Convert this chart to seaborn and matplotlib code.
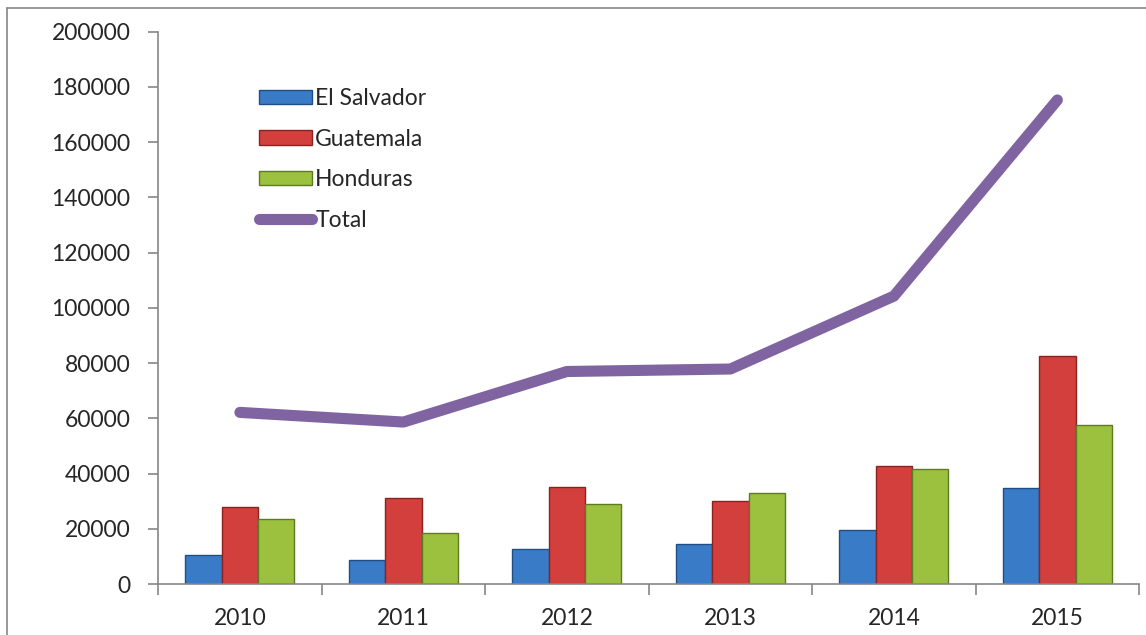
import pandas as pd
import matplotlib.pyplot as plt
import seaborn as sns
from matplotlib.lines import Line2D
from matplotlib.patches import Patch

# Data
years = ["2010", "2011", "2012", "2013", "2014", "2015"]
el_salvador = [10500, 8800, 12700, 14600, 19800, 34900]
guatemala = [28100, 31200, 35100, 30200, 42800, 82600]
honduras = [23600, 18700, 29200, 33100, 41700, 57800]
total = [62200, 58700, 77000, 77900, 104300, 175300]

countries = ["El Salvador", "Guatemala", "Honduras"]
colors = ["#3A7BC8", "#D23F3C", "#9CC13F"]
edges = ["#1F4E85", "#8B2220", "#5E7A22"]

df = pd.DataFrame({
    "year": years * 3,
    "country": [c for c in countries for _ in years],
    "value": el_salvador + guatemala + honduras,
})

sns.set_style("white")
plt.rcParams["font.family"] = ["Lato", "DejaVu Sans"]

fig = plt.figure(figsize=(11.46, 6.35), dpi=100)
ax = fig.add_axes([0.138, 0.080, 0.856, 0.870])

sns.barplot(data=df, x="year", y="value", hue="country", palette=colors,
            width=0.667, ax=ax, legend=False, saturation=1)

# dark edges per series
for bars, ec in zip(ax.containers, edges):
    for b in bars:
        b.set_edgecolor(ec)
        b.set_linewidth(1.0)

sns.pointplot(x=years, y=total, color="#8064A2", markers="", linewidth=8, ax=ax)
for ln in ax.lines:
    ln.set_solid_capstyle("round")
    ln.set_solid_joinstyle("round")

ax.set_ylim(0, 200000)
ax.set_xlim(-0.5, 5.5)
ax.set_yticks(range(0, 200001, 20000))
ax.set_yticklabels([str(v) for v in range(0, 200001, 20000)])
ax.set_xticks([i - 0.5 for i in range(7)])
ax.set_xticklabels([])
ax.set_xticks(range(6), minor=True)
ax.set_xticklabels(years, minor=True)
ax.set_xlabel("")
ax.set_ylabel("")

ax.tick_params(axis="y", which="major", direction="out", length=7, width=1.2,
               color="#868686", labelsize=16.5, pad=13, left=True)
ax.tick_params(axis="x", which="major", direction="out", length=8, width=1.2,
               color="#868686", bottom=True)
ax.tick_params(axis="x", which="minor", length=0, labelsize=16.5, pad=17)

for s in ["top", "right"]:
    ax.spines[s].set_visible(False)
for s in ["left", "bottom"]:
    ax.spines[s].set_color("#868686")
    ax.spines[s].set_linewidth(1.2)

handles = [Patch(facecolor=c, edgecolor=e) for c, e in zip(colors, edges)]
handles.append(Line2D([0], [0], color="#8064A2", lw=8, solid_capstyle="round"))
leg = ax.legend(handles, countries + ["Total"], loc="upper left",
                bbox_to_anchor=(0.082, 0.935), frameon=False, fontsize=16.5,
                handlelength=2.3, handleheight=0.6, labelspacing=0.85,
                handletextpad=0.15)

# chart border (top and left visible)
fig.add_artist(Line2D([0.006, 1.0], [0.987, 0.987], color="#868686", lw=1.2))
fig.add_artist(Line2D([0.006, 0.006], [0.0, 0.987], color="#868686", lw=1.2))

fig.savefig("out.png", dpi=100)
